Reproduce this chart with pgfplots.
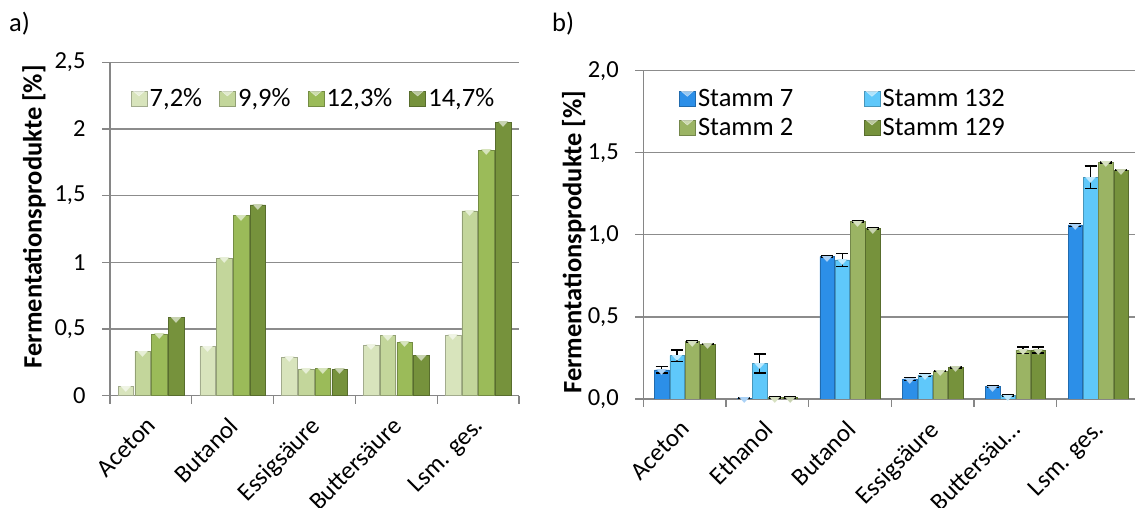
\documentclass[border=0pt]{standalone}
\usepackage{fontspec}
\setmainfont{Carlito}
\newfontfamily\dejavu{DejaVu Sans}
\usepackage{pgfplots}
\usepackage{pgfplotstable}
\pgfplotsset{compat=1.18}

\definecolor{axisgray}{RGB}{134,134,134}
\definecolor{gridgray}{RGB}{140,140,140}
\definecolor{ga}{RGB}{216,228,188}
\definecolor{gb}{RGB}{195,214,155}
\definecolor{gc}{RGB}{155,187,89}
\definecolor{gd}{RGB}{118,146,60}
\definecolor{ba}{RGB}{44,143,232}
\definecolor{bb}{RGB}{95,200,250}
\definecolor{bc}{RGB}{155,180,100}
\definecolor{bd}{RGB}{118,146,60}

\newcommand\fs{\fontsize{24.5}{29}\selectfont}
\newcommand\fx{\fontsize{25}{30}\selectfont}
\newcommand\fl{\fontsize{26.5}{31}\selectfont}
\newcommand\fy{\fontsize{26.5}{31}\selectfont}

\pgfplotstableread{
x a b c d
0 0.068 0.33 0.46 0.585
1 0.368 1.03 1.35 1.43
2 0.288 0.198 0.205 0.198
3 0.38 0.45 0.40 0.30
4 0.453 1.385 1.84 2.05
}\dataa

\pgfplotstableread{
x s7 e7 s132 e132 s2 e2 s129 e129
0 0.177 0.020 0.264 0.035 0.349 0.004 0.335 0.004
1 0.006 0.002 0.217 0.058 0.008 0.003 0.008 0.003
2 0.867 0.004 0.847 0.040 1.080 0.004 1.038 0.005
3 0.122 0.010 0.146 0.010 0.170 0.004 0.193 0.004
4 0.075 0.006 0.020 0.004 0.298 0.020 0.298 0.018
5 1.060 0.010 1.350 0.068 1.442 0.003 1.395 0.004
}\datab

\pgfplotsset{
  ybar legend/.style={legend image code/.code={
      \fill[##1] (0pt,-7.7pt) rectangle (16pt,7.7pt);
      \fill[white, opacity=0.5] (2pt,7.7pt)--(14pt,7.7pt)--(8pt,2.5pt)--cycle;
  }},
  excel/.style={
    scale only axis,
    axis x line*=bottom, axis y line*=left,
    axis line style={draw=axisgray, line width=1.3pt, -},
    ymajorgrids, grid style={draw=gridgray, line width=1.3pt},
    tick style={draw=axisgray, line width=1.3pt},
    tick align=outside, major tick length=8pt,
    x tick label as interval,
    xticklabel style={font=\fx, inner sep=0pt, xshift=-5pt, yshift=-12pt, rotate=45, anchor=north east},
    yticklabel style={font=\fs, xshift=-13pt},
    /pgf/number format/assume math mode=true,
    /pgf/number format/use comma,
    ylabel={\bfseries Fermentationsprodukte [\%]},
    ylabel style={font=\fy},
    legend style={draw=none, fill=none, font=\fl, inner sep=0pt, outer sep=0pt,
      nodes={inner sep=2.5pt}},
  },
  bev/.style={fill=#1, draw=#1!75!black, line width=0.5pt,
    nodes near coords={\textcolor{#1!40!white}{\resizebox{11pt}{5pt}{\dejavu ▼}}},
    every node near coord/.append style={inner sep=0pt, outer sep=0pt, yshift=-5.6pt}},
}

\begin{document}
\begin{tikzpicture}[x=1pt,y=1pt]
\useasboundingbox (0,0) rectangle (1135,508);
\node[anchor=north west, inner sep=0pt, font=\fl] at (9,496) {a)};
\node[anchor=north west, inner sep=0pt, font=\fl] at (552,496) {b)};

\begin{axis}[excel,
  at={(110pt,112.3pt)}, anchor=south west,
  width=409pt, height=333.4pt,
  xmin=-0.5, xmax=4.5, ymin=0, ymax=2.5,
  ytick={0,0.5,1,1.5,2,2.5},
  xtick={-0.5,0.5,1.5,2.5,3.5,4.5},
  xticklabels={Aceton,Butanol,Essigsäure,Buttersäure,Lsm. ges.},
  ybar=1.2pt, bar width=0.19,
  ylabel style={at={(axis description cs:-0.186,0.537)}, anchor=center},
  legend columns=4,
  legend style={at={(axis description cs:0.0506,0.8914)}, anchor=west,
    /tikz/every even column/.append style={column sep=14.5pt}},
]
\addplot[bev=ga] table[x=x,y=a] {\dataa}; \addlegendentry{7,2\%}
\addplot[bev=gb] table[x=x,y=b] {\dataa}; \addlegendentry{9,9\%}
\addplot[bev=gc] table[x=x,y=c] {\dataa}; \addlegendentry{12,3\%}
\addplot[bev=gd] table[x=x,y=d] {\dataa}; \addlegendentry{14,7\%}
\end{axis}

\begin{axis}[excel,
  at={(643.3pt,109pt)}, anchor=south west,
  width=496.2pt, height=328.3pt,
  xmin=-0.5, xmax=5.5, ymin=0, ymax=2.0,
  ytick={0,0.5,1,1.5,2},
  yticklabel style={/pgf/number format/.cd, fixed, fixed zerofill, precision=1},
  xtick={-0.5,0.5,1.5,2.5,3.5,4.5,5.5},
  xticklabels={Aceton,Ethanol,Butanol,Essigsäure,Buttersäu…,Lsm. ges.},
  ybar=0.8pt, bar width=0.175,
  ylabel style={at={(axis description cs:-0.140,0.478)}, anchor=center},
  legend columns=2,
  legend style={at={(axis description cs:0.072,0.8705)}, anchor=west,
    /tikz/every even column/.append style={column sep=68pt},
    /tikz/row sep=5pt},
  error bars/y dir=both, error bars/y explicit,
  error bars/error bar style={black, line width=1.3pt},
  error bars/error mark options={black, rotate=90, mark size=6pt, line width=1.5pt},
]
\addplot[bev=ba] table[x=x,y=s7,y error=e7] {\datab}; \addlegendentry{Stamm 7}
\addplot[bev=bb] table[x=x,y=s132,y error=e132] {\datab}; \addlegendentry{Stamm 132}
\addplot[bev=bc] table[x=x,y=s2,y error=e2] {\datab}; \addlegendentry{Stamm 2}
\addplot[bev=bd] table[x=x,y=s129,y error=e129] {\datab}; \addlegendentry{Stamm 129}
\end{axis}
\end{tikzpicture}
\end{document}
